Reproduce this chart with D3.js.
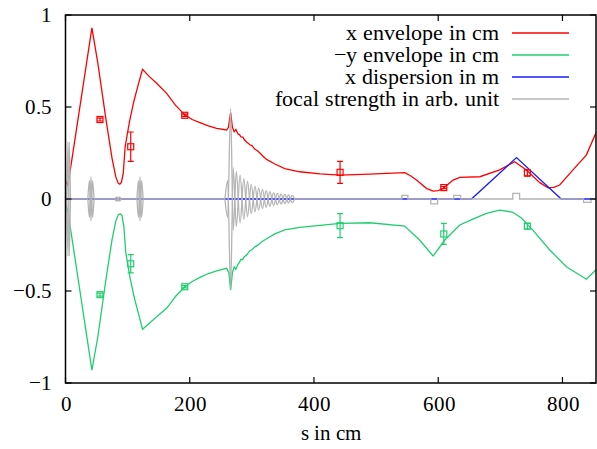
<!DOCTYPE html>
<meta charset="utf-8">
<style>
  @font-face { font-family: "ChartSerif"; src: local("Liberation Serif"), local("LiberationSerif"), local("Times New Roman"); }
  body { margin: 0; }
  svg text { font-family: "ChartSerif", "Liberation Serif", "Times New Roman", serif; }
</style>
<body>
<script src="https://d3js.org/d3.v7.min.js"></script>
<script>

// x envelope in cm  [s, value]
var xEnvelope = [[0,0.1],[4,0.075],[42.5,0.93],[52,0.74],[65,0.435],[75,0.22],[81,0.12],[85,0.085],[87.5,0.08],
  [90,0.09],[93,0.14],[96,0.284],[103,0.42],[110,0.53],[117,0.62],[124,0.705],[135,0.665],[146.7,0.629],[162.8,0.574],
  [177,0.51],[192.3,0.456],[204,0.432],[216.4,0.415],[230,0.397],[243.3,0.384],[259.4,0.375],[262.3,0.39],[265.8,0.47],[268.7,0.39],
  [271.6,0.366],[274.3,0.378],[277.6,0.355],[280,0.35],[282.4,0.338],[285.6,0.336],[288,0.322],[291.5,0.31],
  [296.9,0.295],[300,0.29],[305,0.27],[309,0.262],[313,0.25],[318,0.232],[323.7,0.215],[337,0.19],[353,0.165],
  [377,0.148],[410,0.136],[442,0.13],[490,0.135],[546,0.143],[556,0.125],[565,0.103],[581,0.058],[591.8,0.043],
  [600,0.046],[608,0.058],[624,0.103],[634.8,0.118],[667,0.121],[699,0.158],[723,0.203],[742,0.158],[763.5,0.089],
  [777,0.061],[786,0.063],[795.6,0.076],[817,0.158],[838.6,0.24],[853.6,0.357]];

// -y envelope in cm
var yEnvelope = [[0,-0.03],[4,-0.07],[42.5,-0.93],[52,-0.75],[65,-0.44],[75,-0.22],[81,-0.12],[85,-0.085],[88,-0.08],
  [91,-0.09],[94,-0.15],[97,-0.29],[104,-0.43],[111,-0.54],[118,-0.63],[124,-0.708],[135,-0.675],[146.7,-0.64],[162.8,-0.594],
  [177,-0.53],[192.3,-0.477],[204,-0.448],[216.4,-0.426],[230,-0.405],[243.3,-0.39],[259.4,-0.377],[263,-0.4],[265.8,-0.495],[268.7,-0.4],
  [271.6,-0.368],[274.3,-0.382],[277.6,-0.355],[280,-0.345],[282.4,-0.328],[285,-0.33],[288,-0.314],
  [291.5,-0.304],[297,-0.281],[300,-0.276],[305,-0.26],[309,-0.252],[313,-0.24],[318,-0.228],[323.7,-0.216],
  [337,-0.19],[353,-0.168],[377,-0.154],[442,-0.132],[490,-0.129],[546,-0.147],[570,-0.223],[591.8,-0.31],
  [610.6,-0.223],[634.8,-0.141],[655.7,-0.109],[677.7,-0.078],[699,-0.06],[720,-0.072],[734,-0.103],
  [752,-0.168],[779.6,-0.277],[806.4,-0.368],[838.6,-0.436],[853.6,-0.386]];

// x dispersion in m
var xDispersion = [[0,0],[653.5,0],[726,0.225],[798,0],[854,0]];

// focal strength: rectangular pulses [start, end, height]
var focalPulses = [[541.4,551.1,0.02],[588,599,-0.027],[625,636,0.02],[720,731,0.031],[834,846,-0.018]];

// focal strength: oscillating elements, peak amplitudes [s, amplitude]
var focalOsc = [
  [[2,0],[4,0.31],[6,0.31],[8,0]],
  [[36,0],[38.5,0.1],[41,0.12],[43.5,0.1],[46,0]],
  [[79.6,0],[82,0.012],[84.5,0.012],[87,0.012],[89.3,0]],
  [[115,0],[117.5,0.1],[120,0.12],[122.5,0.1],[125,0]],
  [[256.6,0],[261,0.1],[265.8,0.49],[270,0.17],[275,0.15],[281,0.13],[287,0.11],[293,0.095],[299,0.08],
   [305,0.07],[311,0.06],[317,0.052],[323,0.045],[329,0.04],[335,0.035],[341,0.031],[347,0.028],
   [353,0.025],[359,0.022],[365,0.02],[369,0]]
];

// measured points [s, value, error]
var xMeasured = [[55.5,0.432,0.008],[105,0.284,0.08],[192,0.455,0.006],[442,0.145,0.06],[609,0.062,0.006],[743.5,0.142,0.018]];
var yMeasured = [[55.5,-0.52,0.008],[105,-0.352,0.05],[192,-0.477,0.006],[442,-0.145,0.065],[609,-0.19,0.057],[743.5,-0.148,0.015]];

var xTicks = [0, 200, 400, 600, 800];
var yTicks = [-1, -0.5, 0, 0.5, 1];

var legendLabels = ["x envelope in cm", "\u2212y envelope in cm", "x dispersion in m", "focal strength in arb. unit"];
var colors = ["#ff0000", "#1fcf6f", "#1a1aff", "#b4b4b4"];

var W = 597, H = 449;
var pLeft = 65.5, pRight = 596, pTop = 15, pBottom = 383;
var serif = "ChartSerif, 'Liberation Serif', 'Times New Roman', serif";

var x = d3.scaleLinear().domain([0, 854]).range([pLeft, pRight]);
var y = d3.scaleLinear().domain([-1, 1]).range([pBottom, pTop]);

var svg = d3.select("body").append("svg")
    .attr("width", W)
    .attr("height", H);

svg.append("defs").append("clipPath").attr("id", "clip")
  .append("rect")
    .attr("x", pLeft).attr("y", pTop)
    .attr("width", pRight - pLeft).attr("height", pBottom - pTop);

var line = d3.line().x(function(d) { return x(d[0]); }).y(function(d) { return y(d[1]); });
var oscLine = d3.line().x(function(d) { return x(d[0]); }).y(function(d) { return y(d[1]); }).curve(d3.curveMonotoneX);

var plot = svg.append("g").attr("clip-path", "url(#clip)")
    .style("fill", "none").style("stroke-width", 1.3);

// curves, in gnuplot order
[xEnvelope, yEnvelope, xDispersion].forEach(function(data, i) {
  plot.append("path")
    .attr("d", line(data))
    .style("stroke", colors[i]);
});

// focal strength baseline with pulses, broken where the oscillations are
var events = focalPulses.map(function(p) { return {s0: p[0], s1: p[1], h: p[2]}; })
  .concat(focalOsc.map(function(o) { return {s0: o[0][0], s1: o[o.length - 1][0], h: null}; }))
  .sort(function(a, b) { return a.s0 - b.s0; });

var base = [[0, 0]];
events.forEach(function(e) {
  if (e.h === null) {
    base.push([e.s0, 0], [e.s0, NaN], [e.s1, 0]);
  } else {
    base.push([e.s0, 0], [e.s0, e.h], [e.s1, e.h], [e.s1, 0]);
  }
});
base.push([854, 0]);

var baseLine = d3.line()
    .defined(function(d) { return !isNaN(d[1]); })
    .x(function(d) { return x(d[0]); }).y(function(d) { return y(d[1]); });

plot.append("path")
  .attr("d", baseLine(base))
  .style("stroke", colors[3]);

focalOsc.forEach(function(group) {
  [1, -1].forEach(function(sign) {
    var pts = group.map(function(p, i) { return [p[0], sign * (i % 2 ? 1 : -1) * p[1]]; });
    plot.append("path")
      .attr("d", oscLine(pts))
      .style("stroke", colors[3]);
  });
});

// measurement points with error bars
function drawPoints(data, color) {
  var g = plot.append("g").style("stroke", color).style("stroke-width", 1.2);
  data.forEach(function(d) {
    var cx = x(d[0]), y0 = y(d[1] - d[2]), y1 = y(d[1] + d[2]);
    g.append("line").attr("x1", cx).attr("x2", cx).attr("y1", y0).attr("y2", y1);
    g.append("line").attr("x1", cx - 3).attr("x2", cx + 3).attr("y1", y0).attr("y2", y0);
    g.append("line").attr("x1", cx - 3).attr("x2", cx + 3).attr("y1", y1).attr("y2", y1);
    g.append("rect").attr("x", cx - 3).attr("y", y(d[1]) - 3).attr("width", 6).attr("height", 6);
  });
}
drawPoints(xMeasured, colors[0]);
drawPoints(yMeasured, colors[1]);

// frame and ticks (mirrored, inward)
svg.append("rect")
  .attr("x", pLeft).attr("y", pTop)
  .attr("width", pRight - pLeft).attr("height", pBottom - pTop)
  .style("fill", "none").style("stroke", "#000").style("stroke-width", 1.5);

var ticks = svg.append("g").style("stroke", "#000").style("stroke-width", 1.2);

function addText(tx, ty, anchor, size, str) {
  return svg.append("text").attr("x", tx).attr("y", ty)
    .attr("text-anchor", anchor)
    .attr("font-family", "Liberation Serif")
    .style("font-family", serif).style("font-size", size)
    .text(str);
}

xTicks.forEach(function(t) {
  ticks.append("line").attr("x1", x(t)).attr("x2", x(t)).attr("y1", pBottom).attr("y2", pBottom - 6);
  ticks.append("line").attr("x1", x(t)).attr("x2", x(t)).attr("y1", pTop).attr("y2", pTop + 6);
  addText(x(t) + 1, 411, "middle", "21px", d3.format("")(t));
});
yTicks.forEach(function(t) {
  ticks.append("line").attr("x1", pLeft).attr("x2", pLeft + 6).attr("y1", y(t)).attr("y2", y(t));
  ticks.append("line").attr("x1", pRight).attr("x2", pRight - 6).attr("y1", y(t)).attr("y2", y(t));
  addText(52, y(t) + 7, "end", "21px", d3.format("")(t));
});

addText((pLeft + pRight) / 2, 440, "middle", "21px", "s in cm");

// legend
legendLabels.forEach(function(label, i) {
  var ly = 33 + i * 22;
  addText(499, ly + 7, "end", "21.5px", label);
  svg.append("line").attr("x1", 512).attr("x2", 569).attr("y1", ly).attr("y2", ly)
    .style("stroke", colors[i]).style("stroke-width", 1.3);
});

</script>
</body>
